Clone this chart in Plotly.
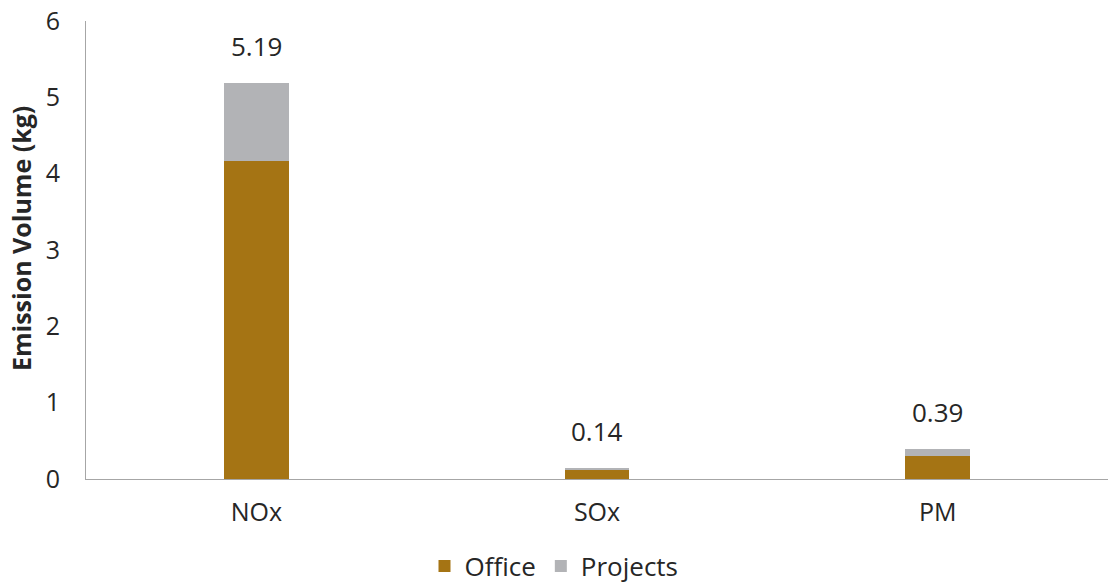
import plotly.graph_objects as go

categories = ["NOx", "SOx", "PM"]
office = [4.17, 0.12, 0.30]
projects = [1.02, 0.02, 0.09]
totals = [5.19, 0.14, 0.39]
total_labels = ["5.19", "0.14", "0.39"]

FONT = "'Open Sans', Lato, sans-serif"
OFFICE_COLOR = "#A57414"
PROJ_COLOR = "#B2B3B6"
TEXT_COLOR = "#262626"

fig = go.Figure()
fig.add_trace(go.Bar(x=categories, y=office, name="Office", marker_color=OFFICE_COLOR,
                     marker_line_width=0, width=0.19))
fig.add_trace(go.Bar(x=categories, y=projects, name="Projects", marker_color=PROJ_COLOR,
                     marker_line_width=0, width=0.19))

for c, t, lab in zip(categories, totals, total_labels):
    fig.add_annotation(x=c, y=t, text=lab, showarrow=False, yshift=37,
                       font=dict(family=FONT, size=26, color=TEXT_COLOR))

# y-axis title as rotated annotation
fig.add_annotation(xref="paper", yref="paper", x=(21 - 86) / 1022, y=0.524,
                   text="<b>Emission Volume (kg)</b>", textangle=-90, showarrow=False,
                   xanchor="center", yanchor="middle",
                   font=dict(size=25, family=FONT, color=TEXT_COLOR))

fig.update_layout(
    barmode="stack",
    width=1108, height=583,
    margin=dict(l=86, r=0, t=21, b=104),
    paper_bgcolor="white", plot_bgcolor="white",
    font=dict(family=FONT, size=25, color=TEXT_COLOR),
    showlegend=True,
    legend=dict(orientation="h", x=0.5, xanchor="center", xref="container",
                y=17 / 583, yanchor="middle", yref="container",
                font=dict(family=FONT, size=26, color=TEXT_COLOR),
                traceorder="normal", itemwidth=30, tracegroupgap=0),
    xaxis=dict(showline=True, linecolor="#A6A6A6", linewidth=1, showgrid=False,
               ticks="", ticklen=0, ticklabelstandoff=11, automargin=False,
               tickfont=dict(size=25, family=FONT, color=TEXT_COLOR)),
    yaxis=dict(range=[0, 6], dtick=1, showline=True, linecolor="#A6A6A6", linewidth=1,
               showgrid=False, zeroline=False, ticks="", ticklen=0, ticklabelstandoff=20,
               automargin=False,
               tickfont=dict(size=25, family=FONT, color=TEXT_COLOR)),
)

fig.write_html("out.html")
